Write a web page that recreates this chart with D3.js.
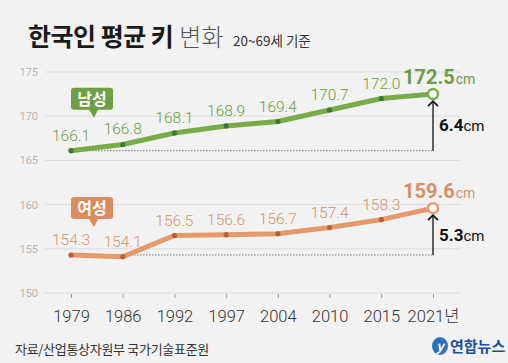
<!DOCTYPE html>
<html><head><meta charset="utf-8">
<script src="https://cdn.jsdelivr.net/npm/d3@7"></script>
<style>
html,body{margin:0;padding:0;background:#f2f2f2;}
svg{display:block;font-family:"Noto Sans CJK KR","Noto Sans",sans-serif;}
</style></head>
<body>
<svg id="c" width="508" height="363"></svg>
<script>
const years = ["1979","1986","1992","1997","2004","2010","2015","2021"];
const maleValues = [166.1,166.8,168.1,168.9,169.4,170.7,172.0,172.5];
const femaleValues = [154.3,154.1,156.5,156.6,156.7,157.4,158.3,159.6];
const yTicks = [150,155,160,165,170,175];
const maleDiff = "6.4";
const femaleDiff = "5.3";

const svg = d3.select("#c");
svg.append("rect").attr("width",508).attr("height",363).attr("fill","#f2f2f2");

const x = d3.scalePoint().domain(years).range([71,433]);
const y = d3.scaleLinear().domain([150,175]).range([293,72]);

// title
const t = svg.append("text").attr("x",28).attr("y",46).attr("fill","#1a1a1a");
t.append("tspan").attr("font-size",25).attr("font-weight",700).attr("letter-spacing",-0.5).text("한국인 평균 키");
t.append("tspan").attr("font-size",24).attr("font-weight",300).attr("fill","#555").attr("dx",6).text("변화");
svg.append("text").attr("x",233).attr("y",46).attr("font-size",13.5).attr("fill","#333").text("20~69세 기준");

// grid
const grid = svg.append("g");
yTicks.forEach(v=>{
  grid.append("line").attr("x1",45).attr("x2",460).attr("y1",y(v)).attr("y2",y(v))
    .attr("stroke","#dcdcdc").attr("stroke-width",1);
  grid.append("text").attr("x",38).attr("y",y(v)+4).attr("text-anchor","end")
    .attr("font-size",11).attr("fill","#b3b3b3").attr("font-family","Roboto,sans-serif").text(v);
});

// x axis
const xa = svg.append("g").attr("transform","translate(0,293)")
  .call(d3.axisBottom(x).tickSize(5).tickFormat(d=> d==="2021" ? d+"년" : d));
xa.select(".domain").remove();
xa.selectAll(".tick line").attr("stroke","#999").attr("y1",1).attr("y2",5);
xa.selectAll(".tick text").attr("font-size",16.5).attr("fill","#333").attr("dy",0).attr("y",29)
  .attr("font-family","Roboto,'Noto Sans CJK KR',sans-serif").attr("font-weight",300);

function series(vals, lineC, dotC, labC, diff, bubbleText, bubbleC, bubbleOff){
  const n = vals.length;
  const lx = x(years[n-1]);
  svg.append("line").attr("x1",x(years[0])).attr("x2",lx).attr("y1",y(vals[0])).attr("y2",y(vals[0]))
    .attr("stroke","#777").attr("stroke-width",1).attr("stroke-dasharray","1.5,1.5");
  const line = d3.line().x((d,i)=>x(years[i])).y(d=>y(d));
  svg.append("path").datum(vals).attr("d",line).attr("fill","none")
    .attr("stroke",lineC).attr("stroke-width",5).attr("stroke-linejoin","round").attr("stroke-linecap","round");
  svg.selectAll(null).data(vals.slice(0,n-1)).join("circle")
    .attr("cx",(d,i)=>x(years[i])).attr("cy",d=>y(d)).attr("r",2.6).attr("fill",dotC);
  svg.append("circle").attr("cx",lx).attr("cy",y(vals[n-1])).attr("r",5)
    .attr("fill","#fff").attr("stroke",lineC).attr("stroke-width",2.5);
  svg.selectAll(null).data(vals.slice(0,n-1)).join("text")
    .attr("x",(d,i)=>x(years[i])).attr("y",d=>y(d)-10).attr("text-anchor","middle")
    .attr("font-size",15.5).attr("fill",labC).attr("font-family","Roboto,sans-serif").attr("font-weight",300)
    .text(d=>d.toFixed(1));
  const lt = svg.append("text").attr("x",lx-30).attr("y",y(vals[n-1])-10).attr("fill",labC)
    .attr("font-family","Roboto,sans-serif");
  lt.append("tspan").attr("font-size",20).attr("font-weight",700).text(vals[n-1].toFixed(1));
  lt.append("tspan").attr("font-size",14).attr("dx",1).text("cm");
  const y0 = y(vals[0]), y1 = y(vals[n-1])+6;
  svg.append("line").attr("x1",lx).attr("x2",lx).attr("y1",y0).attr("y2",y1+1)
    .attr("stroke","#111").attr("stroke-width",1.3);
  svg.append("path").attr("d",`M${lx-5},${y1+6}L${lx},${y1+1}L${lx+5},${y1+6}`)
    .attr("fill","none").attr("stroke","#111").attr("stroke-width",1.6);
  const dt = svg.append("text").attr("x",lx+6).attr("y",(y0+y1)/2+6).attr("fill","#111")
    .attr("font-family","Roboto,sans-serif");
  dt.append("tspan").attr("font-size",17).attr("font-weight",700).text(diff);
  dt.append("tspan").attr("font-size",15).text("cm");
  const bx = 71, by = y(vals[0]) - 63 + bubbleOff;
  const bw = 42, bh = 22;
  const g = svg.append("g");
  g.append("path").attr("d",
    `M${bx+3},${by}H${bx+bw-3}Q${bx+bw},${by} ${bx+bw},${by+3}V${by+bh-3}Q${bx+bw},${by+bh} ${bx+bw-3},${by+bh}`+
    `H${bx+27}L${bx+23},${by+bh+8}L${bx+18},${by+bh}H${bx+3}Q${bx},${by+bh} ${bx},${by+bh-3}V${by+3}Q${bx},${by} ${bx+3},${by}Z`)
    .attr("fill",bubbleC);
  g.append("text").attr("x",bx+bw/2).attr("y",by+17).attr("text-anchor","middle")
    .attr("font-size",16).attr("font-weight",700).attr("fill","#fff").text(bubbleText);
}

series(maleValues,"#7aab4a","#3d7a30","#6e9a43",maleDiff,"남성","#6f9e47",0);
series(femaleValues,"#e49a6b","#b8623a","#d6916a",femaleDiff,"여성","#dc8b5e",5);

// source
svg.append("text").attr("x",15).attr("y",354).attr("font-size",13).attr("fill","#333").attr("letter-spacing",-0.3).text("자료/산업통상자원부 국가기술표준원");
// logo
const lg = svg.append("g");
lg.append("ellipse").attr("cx",440).attr("cy",346).attr("rx",8).attr("ry",9).attr("fill","#2f6fc0");
lg.append("text").attr("x",440).attr("y",351).attr("text-anchor","middle").attr("font-size",13)
  .attr("font-style","italic").attr("font-weight",700).attr("fill","#fff").text("y");
lg.append("text").attr("x",450).attr("y",352).attr("font-size",15).attr("font-weight",700).attr("fill","#1d4f9a").text("연합뉴스");
</script>
</body></html>
